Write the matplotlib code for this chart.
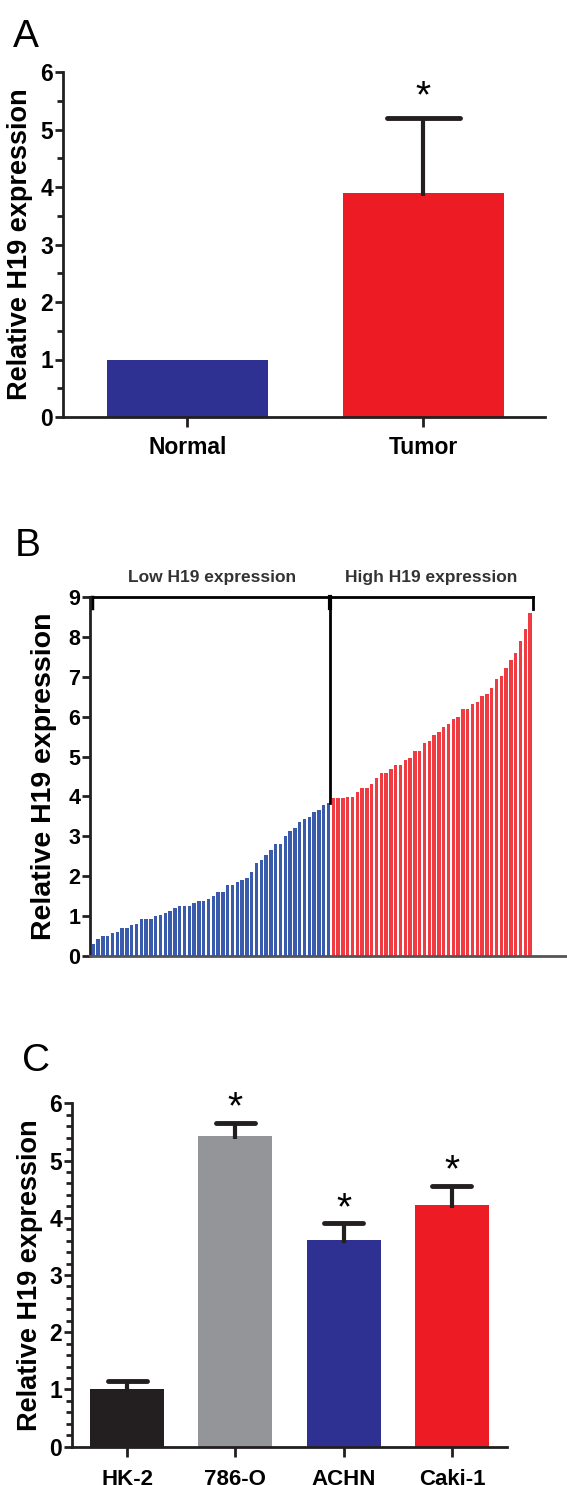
import matplotlib
matplotlib.use('Agg')
import matplotlib.pyplot as plt
from matplotlib.ticker import MultipleLocator

plt.rcParams['font.family'] = ['Liberation Sans', 'DejaVu Sans']
plt.rcParams['font.weight'] = 'bold'
plt.rcParams['axes.labelweight'] = 'bold'

# panel A: tissue
groups_a = ['Normal', 'Tumor']
mean_a = [1.0, 3.9]
err_a = [0.0, 1.3]
colors_a = ['#2e3192', '#ed1c24']
star_a = [False, True]

# panel B: each patient, sorted
low_h19 = [0.29, 0.43, 0.51, 0.51, 0.57, 0.61, 0.71, 0.71, 0.78, 0.80,
           0.94, 0.94, 0.94, 1.00, 1.03, 1.08, 1.12, 1.20, 1.25, 1.25,
           1.25, 1.32, 1.38, 1.38, 1.44, 1.51, 1.60, 1.61, 1.79, 1.79,
           1.85, 1.90, 1.96, 2.10, 2.33, 2.40, 2.52, 2.66, 2.82, 2.82,
           3.00, 3.14, 3.20, 3.37, 3.43, 3.49, 3.62, 3.66, 3.78, 3.83]
high_h19 = [3.95, 3.95, 3.95, 3.99, 3.99, 4.10, 4.20, 4.20, 4.30, 4.45,
            4.58, 4.58, 4.68, 4.79, 4.79, 4.91, 4.97, 5.14, 5.14, 5.34,
            5.39, 5.55, 5.62, 5.75, 5.81, 5.93, 6.00, 6.18, 6.18, 6.32,
            6.37, 6.52, 6.58, 6.73, 6.94, 7.02, 7.23, 7.42, 7.60, 7.89,
            8.21, 8.59]

# panel C: cell lines
cells_c = ['HK-2', '786-O', 'ACHN', 'Caki-1']
mean_c = [1.0, 5.42, 3.61, 4.22]
err_c = [0.14, 0.24, 0.29, 0.34]
colors_c = ['#231f20', '#939598', '#2e3192', '#ed1c24']
star_c = [False, True, True, True]

W, H = 567, 1485
INK = '#231f20'
fig = plt.figure(figsize=(W / 100, H / 100), dpi=100)


def box(l, t, r, b):
    return [l / W, 1 - b / H, (r - l) / W, (b - t) / H]


def style(ax, ymax, minor):
    for s in ['top', 'right']:
        ax.spines[s].set_visible(False)
    for s in ['left', 'bottom']:
        ax.spines[s].set_linewidth(2)
        ax.spines[s].set_color(INK)
    ax.set_ylim(0, ymax)
    ax.yaxis.set_major_locator(MultipleLocator(1))
    if minor:
        ax.yaxis.set_minor_locator(MultipleLocator(minor))
    ax.tick_params(axis='y', which='major', length=6, width=2, pad=1,
                   labelsize=16.5, color=INK)
    ax.tick_params(axis='y', which='minor', length=4, width=2, color=INK)
    ax.tick_params(axis='x', length=7, width=2, labelsize=16.5, pad=7,
                   color=INK)
    ax.set_ylabel('Relative H19 expression', fontsize=19.5)


def upper_err(ax, xs, means, errs, half):
    # one-sided (upward) error bars, GraphPad style
    for x, m, e in zip(xs, means, errs):
        if e <= 0:
            continue
        ax.vlines(x, m - 0.05, m + e, color=INK, lw=3, zorder=3)
        ax.hlines(m + e, x - half, x + half, color=INK, lw=3.5, zorder=3,
                  capstyle='round')


# ---- A
axA = fig.add_axes(box(63, 72, 545, 417))
xa = list(range(len(groups_a)))
axA.bar(xa, mean_a, width=0.68, color=colors_a)
upper_err(axA, xa, mean_a, err_a, 0.155)
for i in xa:
    if star_a[i]:
        axA.text(i, mean_a[i] + err_a[i] + 0.36, '*', ha='center', va='center',
                 fontsize=28, fontweight='normal')
axA.set_xlim(-0.5275, 1.515)
axA.set_xticks(xa)
axA.set_xticklabels(groups_a)
style(axA, 6, 0.5)
axA.yaxis.set_label_coords(-0.062, 0.5)
fig.text(13 / W, 1 - 47 / H, 'A', fontsize=28, fontweight='normal')

# ---- B
axB = fig.add_axes(box(90, 597, 567, 956))
vals = low_h19 + high_h19
xb = range(len(vals))
cols = ['#3a5aab'] * len(low_h19) + ['#ef3b42'] * len(high_h19)
axB.bar(xb, vals, width=0.7, color=cols, linewidth=0)
axB.set_xlim(-0.69, 98.7)
axB.set_xticks([])
style(axB, 9, None)
axB.spines['bottom'].set_color('#555555')
axB.tick_params(axis='y', labelsize=15.5)
axB.set_ylabel('Relative H19 expression', fontsize=20.5)
axB.yaxis.set_label_coords(-0.069, 0.5)
mid = len(low_h19) - 0.6
end = len(vals) - 0.4
axB.plot([-0.69, end], [9, 9], color='black', lw=2, clip_on=False)
axB.plot([-0.27, -0.27], [9, 8.72], color='black', lw=2.5, clip_on=False)
axB.plot([mid, mid], [9, low_h19[-1]], color='black', lw=2, clip_on=False)
axB.plot([mid, mid], [9, 8.72], color='black', lw=3, clip_on=False)
axB.plot([end, end], [9, 8.7], color='black', lw=2, clip_on=False)
axB.text(mid / 2, 9.5, 'Low H19 expression', ha='center', va='center',
         fontsize=12.5, color='#333333')
axB.text((mid + end) / 2, 9.5, 'High H19 expression', ha='center', va='center',
         fontsize=12.5, color='#333333')
fig.text(15 / W, 1 - 556 / H, 'B', fontsize=28, fontweight='normal')

# ---- C
axC = fig.add_axes(box(72, 1103.3, 507, 1446.7))
xc = list(range(len(cells_c)))
axC.bar(xc, mean_c, width=0.683, color=colors_c)
upper_err(axC, xc, mean_c, err_c, 0.18)
for i in xc:
    if star_c[i]:
        axC.text(i, mean_c[i] + err_c[i] + 0.25, '*', ha='center', va='center',
                 fontsize=28, fontweight='normal')
axC.set_xlim(-0.508, 3.509)
axC.set_xticks(xc)
axC.set_xticklabels(cells_c)
style(axC, 6, 0.2)
axC.tick_params(axis='x', labelsize=16, pad=9)
axC.yaxis.set_label_coords(-0.067, 0.5)
fig.text(22 / W, 1 - 1071 / H, 'C', fontsize=28, fontweight='normal')

fig.savefig('out.png', dpi=100)
